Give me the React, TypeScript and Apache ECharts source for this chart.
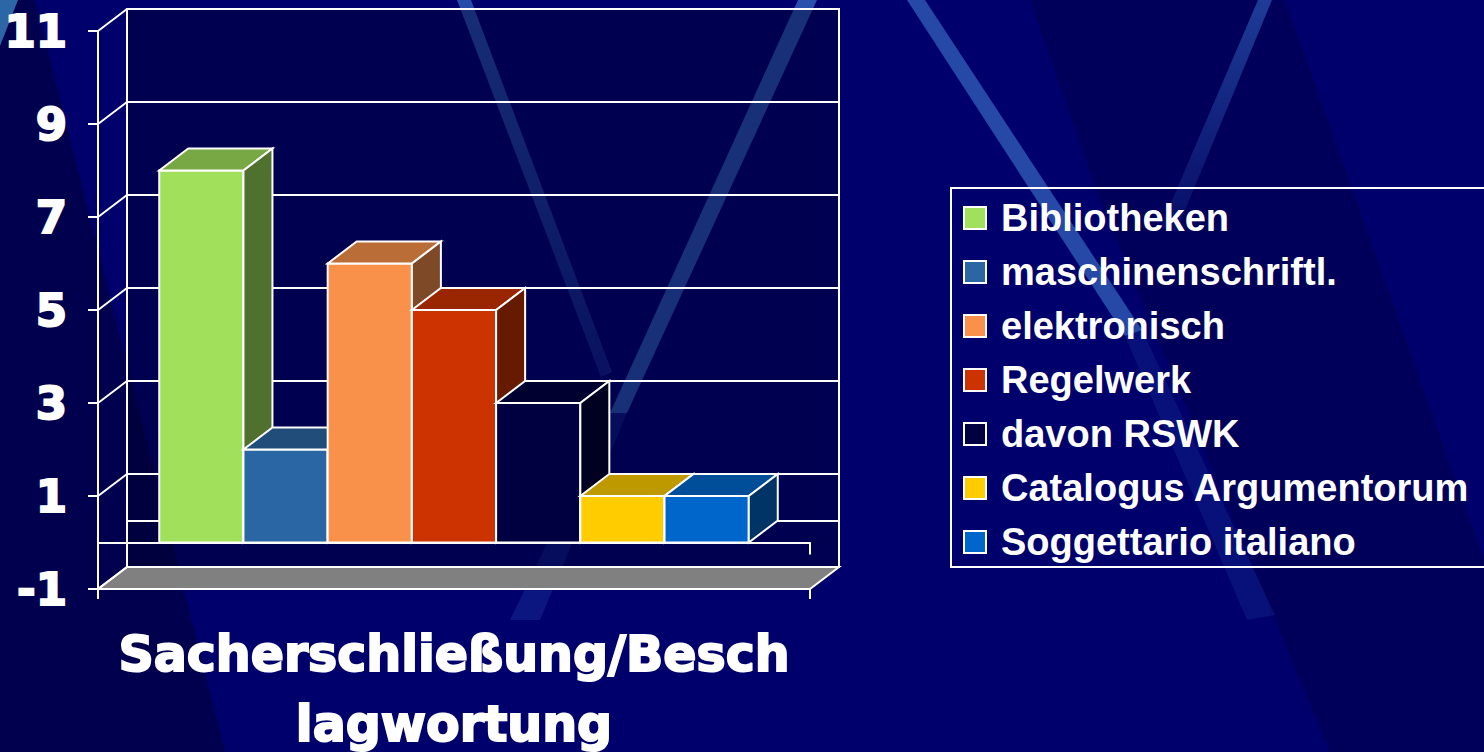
import React, { useEffect, useRef } from "react";
import * as echarts from "echarts";

// ---------- data ----------
const CATEGORY = "Sacherschließung/Beschlagwortung";
const CATEGORY_BREAK = 22; // "Sacherschließung/Besch" | "lagwortung"
const SERIES_NAMES = [
  "Bibliotheken",
  "maschinenschriftl.",
  "elektronisch",
  "Regelwerk",
  "davon RSWK",
  "Catalogus Argumentorum",
  "Soggettario italiano",
];
const SERIES_VALUES = [8, 2, 6, 5, 3, 1, 1];
const SERIES_COLORS = ["#A0E05A", "#2A66A3", "#F9914B", "#CC3300", "#000040", "#FFCC00", "#0066CC"];
const Y_TICKS = [-1, 1, 3, 5, 7, 9, 11];
const Y_MIN = -1;
const Y_MAX = 11;
const Y_STEP = 2;

// ---------- styling / layout ----------
const DX = 29;
const DY = -22;
const BAR_SPAN = 0.828;
const WHITE = "#ffffff";
const BG = "#00006C";

function shade(hex: string, f: number) {
  const n = parseInt(hex.slice(1), 16);
  const r = Math.round(((n >> 16) & 255) * f);
  const g = Math.round(((n >> 8) & 255) * f);
  const b = Math.round((n & 255) * f);
  return `rgb(${r},${g},${b})`;
}

const stripe = (points: number[][], color: string | object) => ({
  type: "polygon",
  z: -10,
  silent: true,
  shape: { points },
  style: { fill: color },
});

function buildOption() {
  const N = SERIES_NAMES.length;
  const barSeries = SERIES_NAMES.map((name, i) => ({
    type: "custom",
    name,
    xAxisIndex: 0,
    yAxisIndex: 0,
    z: 3,
    itemStyle: { color: SERIES_COLORS[i] },
    data: [[0, SERIES_VALUES[i]]],
    renderItem: (params: any, api: any) => {
      const c = api.value(0);
      const v = api.value(1);
      const [cx, yTop] = api.coord([c, v]);
      const yBase = api.coord([c, 0])[1];
      const band = api.size([1, 0])[0];
      const bw = (band * BAR_SPAN) / N;
      const xl = cx - (band * BAR_SPAN) / 2 + i * bw;
      const xr = xl + bw;
      const col = SERIES_COLORS[i];
      const stroke = { stroke: WHITE, lineWidth: 2, lineJoin: "miter" };
      return {
        type: "group",
        children: [
          {
            type: "polygon",
            shape: { points: [[xl, yTop], [xr, yTop], [xr, yBase], [xl, yBase]] },
            style: { fill: col, ...stroke },
          },
          {
            type: "polygon",
            shape: { points: [[xl, yTop], [xl + DX, yTop + DY], [xr + DX, yTop + DY], [xr, yTop]] },
            style: { fill: shade(col, 0.75), ...stroke },
          },
          {
            type: "polygon",
            shape: { points: [[xr, yTop], [xr + DX, yTop + DY], [xr + DX, yBase + DY], [xr, yBase]] },
            style: { fill: shade(col, 0.5), ...stroke },
          },
        ],
      };
    },
  }));

  const frameSeries = {
    type: "custom",
    xAxisIndex: 0,
    yAxisIndex: 0,
    z: 1,
    silent: true,
    data: [[0, Y_MIN]],
    renderItem: (params: any, api: any) => {
      const cs = params.coordSys;
      const x0 = cs.x;
      const x1 = cs.x + cs.width;
      const yB = api.coord([0, Y_MIN])[1];
      const children: any[] = [
        {
          type: "polygon",
          shape: { points: [[x0, yB], [x1, yB], [x1 + DX, yB + DY], [x0 + DX, yB + DY]] },
          style: { fill: "#808080", stroke: WHITE, lineWidth: 2 },
        },
      ];
      Y_TICKS.forEach((t) => {
        const y = api.coord([0, t])[1];
        children.push({
          type: "line",
          shape: { x1: x0, y1: y, x2: x0 + DX, y2: y + DY },
          style: { stroke: WHITE, lineWidth: 2 },
        });
      });
      return { type: "group", children };
    },
  };

  const heavyFont = {
    fontFamily: "DejaVu Sans",
    fontWeight: "bold" as const,
    color: WHITE,
    textBorderColor: WHITE,
    textBorderWidth: 2,
  };

  return {
    animation: false,
    backgroundColor: "transparent",
    graphic: [
      stripe([[0, 46], [17, 0], [35, 0], [225, 752], [0, 752]], "rgba(0,0,35,0.4)"),
      stripe([[0, 0], [18, 0], [0, 46]], "#2C66A6"),
      stripe([[1030, 0], [1285, 0], [1484, 560], [1484, 752], [1330, 752], [1100, 200]], "rgba(0,0,40,0.25)"),
      stripe([[457, 0], [471, 0], [612, 372], [601, 377]], {
        type: "linear", x: 0, y: 0, x2: 0, y2: 1,
        colorStops: [
          { offset: 0, color: "rgba(70,140,220,0.55)" },
          { offset: 1, color: "rgba(70,140,220,0.22)" },
        ],
      }),
      stripe([[798, 0], [817, 0], [627, 413], [610, 413]], "rgba(75,145,225,0.55)"),
      stripe([[610, 413], [627, 413], [540, 620], [510, 620]], "rgba(60,110,210,0.2)"),
      stripe([[907, 0], [925, 0], [1142, 330], [1125, 336]], "rgba(75,145,225,0.5)"),
      stripe([[1125, 336], [1142, 330], [1275, 615], [1247, 620]], "rgba(60,110,210,0.14)"),
      stripe([[1258, 0], [1272, 0], [1176, 232], [1161, 226]], {
        type: "linear", x: 0, y: 0, x2: 0, y2: 1,
        colorStops: [
          { offset: 0, color: "rgba(60,120,210,0.5)" },
          { offset: 1, color: "rgba(60,120,210,0.1)" },
        ],
      }),
    ],
    legend: {
      data: SERIES_NAMES,
      orient: "vertical",
      left: 951,
      top: 188,
      padding: [11, 60, 6, 12],
      itemGap: 16,
      itemWidth: 22,
      itemHeight: 22,
      borderColor: WHITE,
      borderWidth: 2,
      selectedMode: false,
      icon: "rect",
      itemStyle: { borderColor: WHITE, borderWidth: 2 },
      textStyle: {
        color: WHITE,
        fontFamily: "Liberation Sans",
        fontWeight: "bold",
        fontSize: 38,
        lineHeight: 38,
        padding: [0, 0, 0, 10],
      },
    },
    grid: [
      { left: 98, top: 31, width: 712, height: 558, containLabel: false, outerBoundsMode: "none" },
      {
        left: 98 + DX,
        top: 31 + DY,
        width: 712,
        height: 558,
        outerBoundsMode: "none",
        show: true,
        borderColor: WHITE,
        borderWidth: 2,
        backgroundColor: "rgba(0,0,40,0.4)",
      },
    ],
    xAxis: [
      {
        type: "category",
        gridIndex: 0,
        data: [CATEGORY],
        position: "bottom",
        axisLine: { onZero: false, lineStyle: { color: WHITE, width: 2 } },
        axisTick: { show: true, length: 10, lineStyle: { color: WHITE, width: 2 } },
        axisLabel: {
          ...heavyFont,
          fontSize: 49,
          lineHeight: 70,
          margin: 30,
          formatter: (v: string) => v.slice(0, CATEGORY_BREAK) + "\n" + v.slice(CATEGORY_BREAK),
        },
      },
      {
        type: "category",
        gridIndex: 0,
        data: [CATEGORY],
        position: "top",
        axisLine: { onZero: true, lineStyle: { color: WHITE, width: 2 } },
        axisTick: { show: true, inside: true, length: 12, lineStyle: { color: WHITE, width: 2 } },
        axisLabel: { show: false },
      },
      {
        type: "category",
        gridIndex: 1,
        data: [CATEGORY],
        axisLine: { onZero: true, lineStyle: { color: WHITE, width: 2 } },
        axisTick: { show: false },
        axisLabel: { show: false },
      },
    ],
    yAxis: [
      {
        type: "value",
        gridIndex: 0,
        min: Y_MIN,
        max: Y_MAX,
        interval: Y_STEP,
        axisLine: { show: true, lineStyle: { color: WHITE, width: 2 } },
        axisTick: { show: true, length: 10, lineStyle: { color: WHITE, width: 2 } },
        splitLine: { show: false },
        axisLabel: { ...heavyFont, fontSize: 45, margin: 31 },
      },
      {
        type: "value",
        gridIndex: 1,
        min: Y_MIN,
        max: Y_MAX,
        interval: Y_STEP,
        axisLine: { show: false },
        axisTick: { show: false },
        axisLabel: { show: false },
        splitLine: { show: true, lineStyle: { color: WHITE, width: 2 } },
      },
    ],
    series: [frameSeries, ...barSeries],
  };
}

export default function App() {
  const ref = useRef<HTMLDivElement>(null);
  useEffect(() => {
    document.body.style.margin = "0";
    document.body.style.background = BG;
    if (!ref.current) return;
    const chart = echarts.init(ref.current, undefined, { renderer: "svg" });
    chart.setOption(buildOption() as any);
    return () => chart.dispose();
  }, []);
  return (
    <div
      ref={ref}
      style={{ position: "fixed", left: 0, top: 0, width: 1484, height: 752, background: BG }}
    />
  );
}
